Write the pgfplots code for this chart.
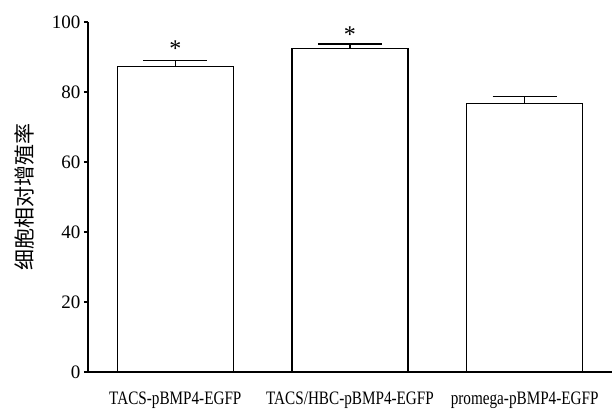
\documentclass[border=0pt]{standalone}
\usepackage{fontspec}
\setmainfont{Liberation Serif}
\newfontfamily\cjk{Noto Sans CJK SC}
\newfontfamily\condfont[FakeStretch=0.8]{Liberation Serif}
\usepackage{pgfplots}
\pgfplotsset{compat=1.18}
\begin{document}
\begin{tikzpicture}
\begin{axis}[
  scale only axis,
  width=524pt, height=350pt,
  xmin=-0.5, xmax=2.5,
  ymin=0, ymax=100,
  axis x line=bottom, axis y line=left,
  axis line style={-, line width=1.1pt},
  ytick={0,20,40,60,80,100},
  xtick={0,1,2},
  xticklabels={TACS-pBMP4-EGFP, TACS/HBC-pBMP4-EGFP, promega-pBMP4-EGFP},
  x tick label style={font=\fontsize{19}{19}\condfont, yshift=-12pt},
  y tick label style={font=\fontsize{19}{19}\selectfont},
  /pgf/number format/assume math mode=true,
  major x tick style={draw=none},
  major y tick style={line width=1.1pt, black},
  tick align=outside,
  major tick length=4pt,
  every axis y label/.style={at={(axis description cs:0,0.5)}, anchor=center, rotate=90, yshift=64pt},
  ylabel={\fontsize{21}{21}\cjk 细胞相对增殖率},
  clip=false,
]
\coordinate (O) at (rel axis cs:0,0);
\addplot[ybar, bar width=116pt, fill=white, draw=black, line width=1.1pt,
  error bars/.cd, y dir=plus, y explicit,
  error mark=|,
  error bar style={line width=1.1pt, black},
  error mark options={mark size=32pt, line width=1.1pt, black}]
  coordinates {(0,87.4) +- (0,1.7) (1,92.5) +- (0,1.2) (2,76.7) +- (0,2.0)};
\addplot[draw=none, mark=none, nodes near coords={*},
  every node near coord/.style={anchor=center, font=\fontsize{24}{24}\selectfont}]
  coordinates {(0,92.5) (1,96.5)};
\end{axis}
\pgfresetboundingbox
\path[use as bounding box] ([shift={(-88pt,-36pt)}]O) rectangle ([shift={(526pt,372pt)}]O);
\end{tikzpicture}
\end{document}
